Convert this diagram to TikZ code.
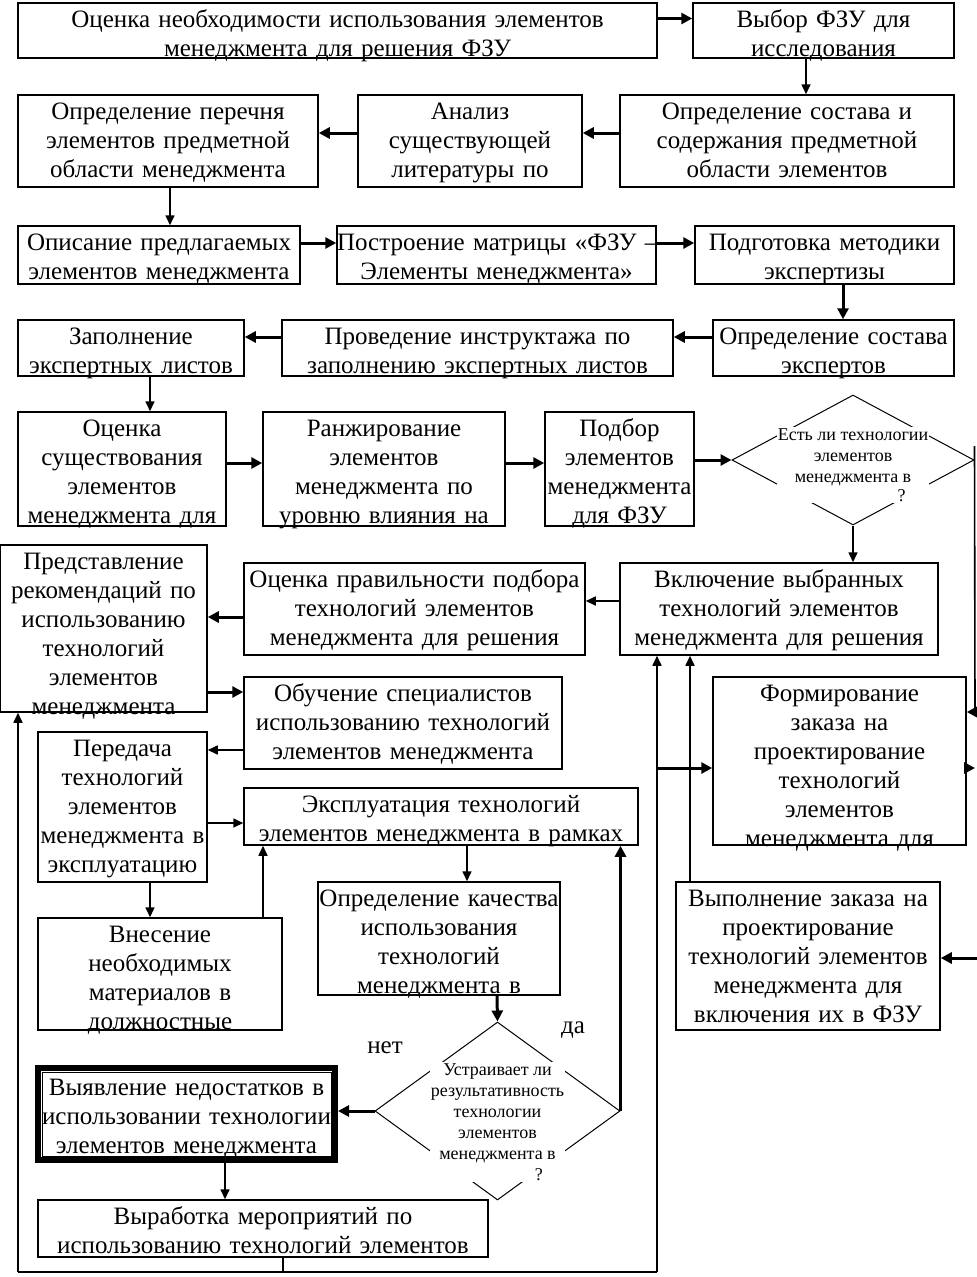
\documentclass[tikz,border=0pt]{standalone}
\usepackage{fontspec}
\setmainfont{Liberation Serif}
\usetikzlibrary{positioning,calc,arrows.meta,shapes.geometric}

\begin{document}
\begin{tikzpicture}[x=1pt,y=-1pt,
    bx/.style 2 args={draw,line width=1.5pt,align=center,inner sep=0pt,
      font=\fontsize{25}{29}\selectfont,
      text width=#1pt,minimum width=#1pt,minimum height=#2pt,
      text height=24pt,text depth=#2pt-24pt},
    dm/.style 2 args={draw,diamond,line width=1pt,inner sep=0pt,
      minimum width=#1pt,minimum height=#2pt},
    dtxt/.style={fill=white,align=center,inner sep=1pt,
      font=\fontsize{18}{21}\selectfont},
    lbl/.style={font=\fontsize{25}{29}\selectfont},
    ta/.style={-{Triangle[length=11pt,width=11pt]},line width=3pt},
    tn/.style={-{Triangle[length=10pt,width=9pt]},line width=1.6pt}]
  \useasboundingbox (0,0) rectangle (977,1277);

  % top rows
  \node[bx={639}{55}] (ocen) at (337.5,30.5) {Оценка необходимости использования элементов\\менеджмента для решения ФЗУ};
  \node[bx={261}{55}] (vybor) at (823.5,30.5) {Выбор ФЗУ для\\исследования};
  \node[bx={300}{92}] (perech) at (168,141) {Определение перечня\\элементов предметной\\области менеджмента};
  \node[bx={224}{92}] (analiz) at (470,141) {Анализ\\существующей\\литературы по};
  \node[bx={334}{92}] (sostav) at (787,141) {Определение состава и\\содержания предметной\\области элементов};
  \node[bx={282}{58}] (opis) at (159,255) {Описание предлагаемых\\элементов менеджмента};
  \node[bx={319}{58}] (matr) at (496.5,255) {\mbox{Построение матрицы «ФЗУ –}\\Элементы менеджмента»};
  \node[bx={259}{58}] (metod) at (824.5,255) {Подготовка методики\\экспертизы};
  \node[bx={226}{56}] (zapoln) at (131,348) {Заполнение\\экспертных листов};
  \node[bx={391}{56}] (instr) at (477.5,348) {Проведение инструктажа по\\заполнению экспертных листов};
  \node[bx={241}{56}] (eksp) at (833.5,348) {Определение состава\\экспертов};
  \node[bx={208}{114}] (sushch) at (122,469) {Оценка\\существования\\элементов\\менеджмента для};
  \node[bx={242}{114}] (ranzh) at (384,469) {Ранжирование\\элементов\\менеджмента по\\уровню влияния на};
  \node[bx={149}{114}] (podbor) at (619.5,469) {Подбор\\элементов\\менеджмента\\для ФЗУ};
  \node[dm={242}{130}] (est) at (853,460) {};
  \node[dtxt] (estq) at (853,465) {Есть ли технологии\\элементов\\менеджмента в\\[-2pt]\hspace*{5.4em}?};

  % middle
  \node[bx={207}{167}] (predst) at (103.5,628.5) {Представление\\рекомендаций по\\использованию\\технологий\\элементов\\менеджмента};
  \node[bx={341}{92}] (pravil) at (414.5,609) {Оценка правильности подбора\\технологий элементов\\менеджмента для решения};
  \node[bx={318}{92}] (vkl) at (779,609) {Включение выбранных\\технологий элементов\\менеджмента для решения};
  \node[bx={318}{92}] (obuch) at (403,723) {Обучение специалистов\\использованию технологий\\элементов менеджмента};
  \node[bx={253}{168}] (form) at (839.5,761) {Формирование\\заказа на\\проектирование\\технологий\\элементов\\менеджмента для};
  \node[bx={169}{150}] (pered) at (122.5,807) {Передача\\технологий\\элементов\\менеджмента в\\эксплуатацию};
  \node[bx={394}{57}] (ekspl) at (441,816.5) {Эксплуатация технологий\\элементов менеджмента в рамках};
  \node[bx={264}{148}] (vypoln) at (808,956) {Выполнение заказа на\\проектирование\\технологий элементов\\менеджмента для\\включения их в ФЗУ};
  \node[bx={244}{112}] (vnes) at (160,974) {Внесение\\необходимых\\материалов в\\должностные};
  \node[bx={242}{113}] (kach) at (439,938.5) {Определение качества\\использования\\технологий\\менеджмента в};

  % bottom
  \node[dm={245}{178}] (ustr) at (497.5,1111) {};
  \node[dtxt] (ustrq) at (497.5,1122) {Устраивает ли\\результативность\\технологии\\элементов\\менеджмента в\\\hspace*{4.6em}?};
  \node[lbl] (da) at (573,1030) {да};
  \node[lbl] (net) at (385,1048) {нет};
  \node[bx={297}{92},line width=6pt,text height=27pt,text depth=65pt] (vyyavl) at (186.5,1114) {Выявление недостатков в\\использовании технологии\\элементов менеджмента};
  \draw[line width=1pt] ([shift={(7,7)}]vyyavl.north west) rectangle ([shift={(-7,-7)}]vyyavl.south east);
  \node[bx={450}{57}] (vyrab) at (263,1228.5) {Выработка мероприятий по\\использованию технологий элементов};

  \coordinate (bl) at (18,1272);
  \coordinate (bm) at (283,1272);
  \coordinate (br) at (657,1272);
  \coordinate (r1) at (975,712);
  \coordinate (r2) at (975,768);
  \coordinate (r3) at (977,958);

  % connectors
  \draw[ta] ([yshift=12pt]ocen.east) -- ([yshift=12pt]vybor.west);
  \draw[tn] (vybor.south -| 806,0) -- (sostav.north -| 806,0);
  \draw[ta] (sostav.west |- 0,133) -- (analiz.east |- 0,133);
  \draw[ta] (analiz.west |- 0,133) -- (perech.east |- 0,133);
  \draw[tn] (perech.south -| 170,0) -- (opis.north -| 170,0);
  \draw[ta] (opis.east |- 0,243) -- (matr.west |- 0,243);
  \draw[ta] (matr.east |- 0,243) -- (metod.west |- 0,243);
  \draw[ta] (metod.south -| 843,0) -- (eksp.north -| 843,0);
  \draw[ta] (eksp.west |- 0,337) -- (instr.east |- 0,337);
  \draw[ta] (instr.west |- 0,337) -- (zapoln.east |- 0,337);
  \draw[tn] (zapoln.south -| 150,0) -- (sushch.north -| 150,0);
  \draw[ta] (sushch.east |- 0,463) -- (ranzh.west |- 0,463);
  \draw[ta] (ranzh.east |- 0,463) -- (podbor.west |- 0,463);
  \draw[ta] (podbor.east |- est.west) -- (est.west);
  \draw[tn] (est.south) -- (est.south |- vkl.north);
  \draw[line width=1.6pt] ([yshift=14pt]est.east) -- (r1);
  \draw[ta] (r1) -- (r1 -| form.east);
  \draw[tn] (vkl.west |- 0,601) -- (pravil.east |- 0,601);
  \draw[ta] (pravil.west |- 0,617) -- (predst.east |- 0,617);
  \draw[ta] (predst.east |- 0,692) -- (obuch.west |- 0,692);
  \draw[tn] (obuch.west |- 0,750) -- (pered.east |- 0,750);
  \draw[tn] (pered.east |- 0,823) -- (ekspl.west |- 0,823);
  \draw[tn] (pered.south -| 150,0) -- (vnes.north -| 150,0);
  \draw[tn] (vnes.north -| 263,0) -- (ekspl.south -| 263,0);
  \draw[tn] (ekspl.south -| 467,0) -- (kach.north -| 467,0);
  \draw[ta] (kach.south -| 497,0) -- (ustr.north);
  \draw[ta] (ustr.east) -- (ustr.east |- ekspl.south);
  \draw[ta] (ustr.west) -- (ustr.west -| vyyavl.east);
  \draw[tn] (vyyavl.south -| 225,0) -- (vyrab.north -| 225,0);
  \draw[line width=1.6pt] (vyrab.south -| bm) -- (bm);
  \draw[line width=2.5pt] (bl) -- (br);
  \draw[tn] (bl) -- (bl |- predst.south);
  \draw[tn] (br) -- (br |- vkl.south);
  \draw[ta] (br |- r2) -- (r2 -| form.west);
  \draw[ta] (r2 -| form.east) -- (r2);
  \draw[tn] (vypoln.north -| 690,0) -- (vkl.south -| 690,0);
  \draw[ta] (r3) -- (r3 -| vypoln.east);
\end{tikzpicture}
\end{document}
